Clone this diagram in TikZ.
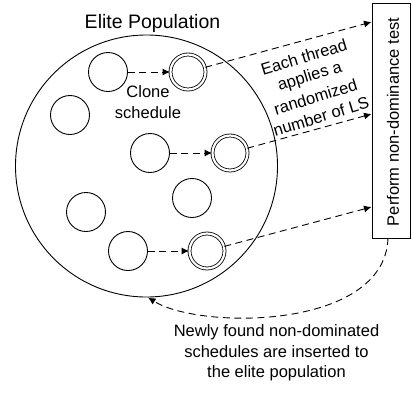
\documentclass[tikz,border=0pt]{standalone}
\usepackage{fontspec}
\setmainfont{Liberation Sans}
\usetikzlibrary{arrows.meta}
\begin{document}
\begin{tikzpicture}[x=1pt,y=-1pt,
  sol/.style={circle,draw,line width=0.9pt,minimum size=39pt,inner sep=0pt},
  clone/.style={circle,draw,line width=0.8pt,double,double distance=2.2pt,minimum size=35pt,inner sep=0pt},
  dline/.style={line width=0.9pt,dash pattern=on 7pt off 4.5pt,-{Latex[length=7.5pt,width=7pt]}},
  txt/.style={font=\fontsize{16.5}{20.5}\selectfont,align=center,inner sep=0pt},
  rtxt/.style={txt,rotate=17}]
\useasboundingbox (0,0) rectangle (412,392);
\node[circle,draw,line width=0.9pt,minimum size=262pt,inner sep=0pt] (pop) at (146.5,166) {};
\node[txt,font=\fontsize{19.5}{22}\selectfont,anchor=base] (title) at (152.5,28) {Elite Population};
\node[sol] (c1) at (108,72) {};
\node[clone] (d1) at (188,72) {};
\node[sol] (c2) at (70,115) {};
\node[sol] (c3) at (150,153) {};
\node[clone] (d2) at (230,153) {};
\node[sol] (c4) at (192,198) {};
\node[sol] (c5) at (86,212) {};
\node[sol] (c6) at (128,251) {};
\node[clone] (d3) at (207,251) {};
\node[txt] (clonetxt) at (148,102) {Clone\\schedule};
\node[draw,line width=0.9pt,minimum width=38pt,minimum height=235pt,inner sep=0pt] (box) at (391,120.5) {};
\node[txt,rotate=90] (boxtxt) at (393,122) {Perform non-dominance test};
\coordinate (t1) at (371.5,22);
\coordinate (t2) at (371.5,114);
\coordinate (t3) at (371.5,207);
\coordinate (b0) at (388,238);
\coordinate (p0) at (148,297.5);
\draw[dline] (c1) -- (d1);
\draw[dline] (c3) -- (d2);
\draw[dline] (c6) -- (d3);
\draw[dline] (d1) -- (t1);
\draw[dline] (d2) -- (t2);
\draw[dline] (d3) -- (t3);
\node[rtxt] (each1) at (304,57) {Each thread};
\node[rtxt] (each2) at (310,77) {applies a};
\node[rtxt] (each3) at (315.5,97) {randomized};
\node[rtxt] (each4) at (321,116.5) {number of LS};
\draw[dline] (b0) .. controls (385,330) and (200,330) .. (p0);
\node[txt] (newly) at (276.5,353) {Newly found non-dominated\\schedules are inserted to\\the elite population};
\end{tikzpicture}
\end{document}
